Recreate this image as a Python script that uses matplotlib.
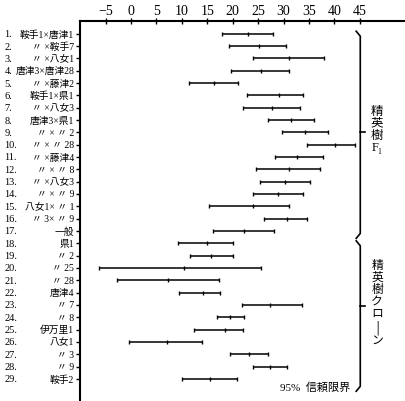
import matplotlib
matplotlib.use('Agg')
import matplotlib.pyplot as plt
import matplotlib.transforms as mtransforms

plt.rcParams['font.family'] = ['Liberation Serif', 'Noto Sans CJK JP', 'DejaVu Sans']

# row labels (number, name)
nums = ['1.', '2.', '3.', '4.', '5.', '6.', '7.', '8.', '9.', '10.',
        '11.', '12.', '13.', '14.', '15.', '16.', '17.', '18.', '19.', '20.',
        '21.', '22.', '23.', '24.', '25.', '26.', '27.', '28.', '29.']
names = ['鞍手1×唐津1', '〃 ×鞍手7', '〃 ×八女1', '唐津3×唐津28', '〃 ×藤津2',
         '鞍手1×県1', '〃 ×八女3', '唐津3×県1', '〃 × 〃 2', '〃 × 〃 28',
         '〃 ×藤津4', '〃 × 〃 8', '〃 ×八女3', '〃 × 〃 9', '八女1× 〃 1',
         '〃 3× 〃 9', '一般', '県1', '〃 2', '〃 25',
         '〃 28', '唐津4', '〃 7', '〃 8', '伊万里1',
         '八女1', '〃 3', '〃 9', '鞍手2']

# 95% confidence limits and mean
low = [17.9, 19.2, 24.0, 19.6, 11.5, 22.8, 22.1, 27.0, 29.7, 34.7,
       28.3, 24.5, 25.3, 23.9, 15.4, 26.2, 16.2, 9.3, 11.6, -6.4,
       -2.8, 9.5, 21.8, 16.9, 12.4, -0.4, 19.5, 23.9, 10.0]
mid = [23.0, 25.1, 31.0, 25.5, 16.3, 29.2, 27.7, 31.5, 34.3, 40.2,
       32.7, 31.0, 30.3, 29.0, 23.9, 30.6, 22.3, 14.9, 15.7, 10.4,
       7.3, 14.2, 27.4, 19.5, 18.5, 7.1, 23.3, 27.4, 15.6]
high = [28.0, 30.5, 37.9, 31.1, 21.0, 33.9, 33.3, 35.9, 38.7, 44.1,
        37.7, 37.1, 35.2, 33.9, 31.1, 34.7, 28.2, 20.0, 20.0, 25.5,
        17.3, 17.5, 33.7, 22.2, 22.1, 14.0, 26.9, 30.6, 20.9]

xticks = [-5, 0, 5, 10, 15, 20, 25, 30, 35, 40, 45]

rows = list(range(1, len(names) + 1))

fig = plt.figure(figsize=(4.05, 4.02), dpi=100)
ax = fig.add_axes([80 / 405, 0, 1 - 80 / 405, 380 / 402])
ax.set_xlim(-10.04, 53.9)
ax.set_ylim(30.79, -0.03)

for s in ['right', 'bottom']:
    ax.spines[s].set_visible(False)
ax.spines['top'].set_linewidth(1.5)
ax.spines['left'].set_linewidth(1.5)

ax.xaxis.tick_top()
ax.set_xticks(xticks)
ax.set_xticklabels([str(t).replace('-', '−') for t in xticks], fontsize=10)
ax.tick_params(axis='x', direction='inout', length=4, width=1, pad=1)
ax.set_yticks(rows)
ax.set_yticklabels([])
ax.tick_params(axis='y', direction='out', length=3, width=1)

# intervals
ax.hlines(rows, low, high, color='k', lw=1.1)
ax.plot(low, rows, '|', color='k', ms=3, mew=1)
ax.plot(high, rows, '|', color='k', ms=3, mew=1)
ax.plot(mid, rows, '|', color='k', ms=3, mew=1)

# row labels
trans = mtransforms.blended_transform_factory(ax.transAxes, ax.transData)
for r, n, nm in zip(rows, nums, names):
    ax.text(-0.232, r, n, transform=trans, ha='left', va='center', fontsize=7.5)
    ax.text(-0.018, r, nm, transform=trans, ha='right', va='center', fontsize=7)

# braces
bx = 45.1
ax.plot([44.3, bx, bx, 44.3], [0.8, 1.2, 17.2, 17.6], color='k', lw=1.2, clip_on=False)
ax.plot([bx, 46.0], [9.0, 9.0], color='k', lw=1.2, clip_on=False)
ax.plot([44.3, bx, bx, 44.3], [17.8, 18.2, 29.6, 30.0], color='k', lw=1.2, clip_on=False)
ax.plot([bx, 46.0], [23.1, 23.1], color='k', lw=1.2, clip_on=False)

ax.text(48.4, 8.7, '精\n英\n樹\nF₁', ha='center', va='center', fontsize=9, linespacing=1.0)
ax.text(48.4, 22.8, '精\n英\n樹\nク\nロ\n│\nン', ha='center', va='center', fontsize=8.5, linespacing=1.0)
ax.text(36.2, 29.6, '95%  信頼限界', ha='center', va='center', fontsize=8)

fig.savefig('out.png', dpi=100)
